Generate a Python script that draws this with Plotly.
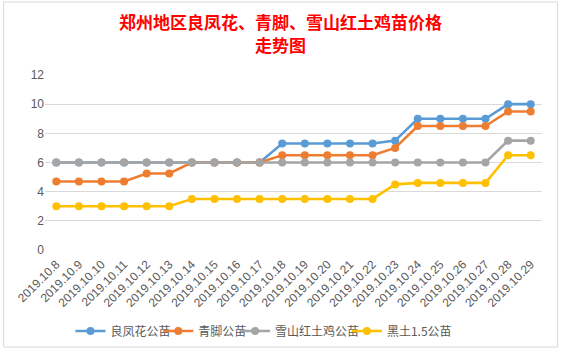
import plotly.graph_objects as go

dates = ["2019.10.8", "2019.10.9", "2019.10.10", "2019.10.11", "2019.10.12", "2019.10.13",
         "2019.10.14", "2019.10.15", "2019.10.16", "2019.10.17", "2019.10.18", "2019.10.19",
         "2019.10.20", "2019.10.21", "2019.10.22", "2019.10.23", "2019.10.24", "2019.10.25",
         "2019.10.26", "2019.10.27", "2019.10.28", "2019.10.29"]

liangfenghua = [6, 6, 6, 6, 6, 6, 6, 6, 6, 6, 7.3, 7.3, 7.3, 7.3, 7.3, 7.5, 9, 9, 9, 9, 10, 10]
qingjiao = [4.7, 4.7, 4.7, 4.7, 5.25, 5.25, 6, 6, 6, 6, 6.5, 6.5, 6.5, 6.5, 6.5, 7, 8.5, 8.5, 8.5, 8.5, 9.5, 9.5]
xueshan = [6, 6, 6, 6, 6, 6, 6, 6, 6, 6, 6, 6, 6, 6, 6, 6, 6, 6, 6, 6, 7.5, 7.5]
heitu = [3, 3, 3, 3, 3, 3, 3.5, 3.5, 3.5, 3.5, 3.5, 3.5, 3.5, 3.5, 3.5, 4.5, 4.6, 4.6, 4.6, 4.6, 6.5, 6.5]

title_lines = ["郑州地区良凤花、青脚、雪山红土鸡苗价格", "走势图"]

series = [
    ("良凤花公苗", liangfenghua, "#5B9BD5"),
    ("青脚公苗", qingjiao, "#ED7D31"),
    ("雪山红土鸡公苗", xueshan, "#A5A5A5"),
    ("黑土1.5公苗", heitu, "#FFC000"),
]

W, H = 561, 351
ml, mr, mt, mb = 44.5, 18.5, 75, 101
PH = H - mt - mb
PW = W - ml - mr

legend_left_px = [70, 158, 235, 347]
legend_names = ["legend", "legend2", "legend3", "legend4"]

fig = go.Figure()
for (name, vals, color), lg in zip(series, legend_names):
    fig.add_trace(go.Scatter(
        x=dates, y=vals, name=name, mode="lines+markers",
        line=dict(color=color, width=2.6),
        marker=dict(color=color, size=8),
        legend=lg,
    ))

annotations = []
for i, line in enumerate(title_lines):
    yc = 22 + 22 * i
    annotations.append(dict(
        text="<b>" + line + "</b>", xref="paper", yref="paper",
        x=(280.5 - ml) / PW, y=1 + (mt - yc) / PH,
        xanchor="center", yanchor="middle", showarrow=False,
        font=dict(family="Noto Sans CJK SC", size=17, color="#FF0000"),
    ))

legend_layout = {}
for lg, px in zip(legend_names, legend_left_px):
    legend_layout[lg] = dict(
        orientation="h", x=(px - ml) / PW, xanchor="left",
        y=-81 / PH, yanchor="middle", bgcolor="rgba(0,0,0,0)",
        font=dict(family="Noto Sans CJK SC", size=12, color="#595959"),
        itemwidth=30,
    )

fig.update_layout(
    width=W, height=H, autosize=False,
    margin=dict(l=ml, r=mr, t=mt, b=mb, autoexpand=False),
    paper_bgcolor="white", plot_bgcolor="white",
    font=dict(family="Noto Sans CJK SC, Liberation Sans, sans-serif", color="#595959", size=11),
    annotations=annotations,
    showlegend=True,
    xaxis=dict(
        type="category", range=[-0.5, len(dates) - 0.5], automargin=False,
        tickangle=-45, showgrid=False, showline=False, ticks="",
        ticklabelstandoff=4,
        tickfont=dict(family="Liberation Sans", size=12, color="#595959"),
    ),
    yaxis=dict(
        range=[0, 12], dtick=2, showgrid=True, gridcolor="#D9D9D9", gridwidth=1,
        zeroline=False, showline=False, ticks="", automargin=False,
        tickfont=dict(family="Liberation Sans", size=12, color="#595959"),
    ),
    shapes=[
        dict(type="rect", xref="paper", yref="paper",
             x0=-(ml - 3) / PW, x1=1 + (mr - 3) / PW,
             y0=-(mb - 4) / PH, y1=1 + (mt - 2) / PH,
             line=dict(color="#D9D9D9", width=1), fillcolor="rgba(0,0,0,0)", layer="below"),
    ],
    **legend_layout,
)

fig.write_html("out.html")
